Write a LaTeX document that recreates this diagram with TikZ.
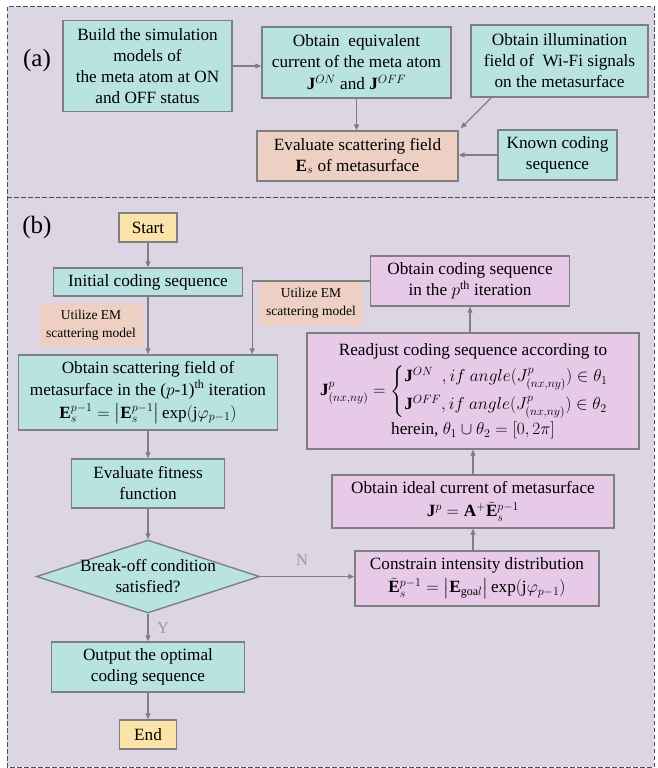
\documentclass[tikz,border=0pt]{standalone}
\usepackage{amsmath}
\usepackage{amssymb}
\usepackage{fontspec}
\setmainfont{Liberation Serif}
\usetikzlibrary{shapes.geometric,arrows.meta}
\definecolor{panelbg}{HTML}{DCD6E4}
\definecolor{tealbox}{HTML}{B8E3E1}
\definecolor{salmonbox}{HTML}{EECFC4}
\definecolor{pinkbox}{HTML}{E7CAE8}
\definecolor{yellowbox}{HTML}{FBE3AA}
\definecolor{edgegray}{HTML}{7F7F7F}
\definecolor{labgray}{HTML}{9A9A9A}
\tikzset{
  box/.style={
    draw=edgegray, line width=1.4pt, fill=#1, align=center,
    inner sep=2pt, font=\fontsize{17.2}{21}\selectfont
  },
  note/.style={
    fill=salmonbox, align=center, inner sep=1pt,
    font=\fontsize{13.5}{18}\selectfont
  },
  arr/.style={
    draw=edgegray, line width=1.1pt,
    -{Triangle[length=6pt,width=5pt]}
  },
  frame/.style={draw=black!70, line width=1pt, dash pattern=on 4.5pt off 2.5pt},
  yn/.style={text=labgray, font=\fontsize{16.5}{20}\selectfont}
}
\begin{document}
\begin{tikzpicture}[x=1pt,y=-1pt]
\useasboundingbox (0,0) rectangle (657,768);
\fill[panelbg] (7,7) rectangle (654,767);
\draw[frame] (7,7) rectangle (654,767);
\draw[frame] (7,197) -- (654,197);

\node[font=\fontsize{25}{28}\selectfont] (tagA) at (37,60) {(a)};
\node[font=\fontsize{25}{28}\selectfont] (tagB) at (37,227) {(b)};

% (a)
\node[box=tealbox, minimum width=169pt, minimum height=91pt] (build) at (147.5,66)
  {Build the simulation\\ models of\\ the meta atom at ON\\ and OFF status};
\node[box=tealbox, minimum width=189pt, minimum height=71pt] (equiv) at (356.5,62.5)
  {Obtain\ \ equivalent\\ current of the meta atom\\[1pt] $\mathbf{J}^{ON}$ and $\mathbf{J}^{OFF}$};
\node[box=tealbox, minimum width=177pt, minimum height=72pt] (illum) at (559.5,61)
  {Obtain illumination\\ field of\ \ Wi-Fi signals\\ on the metasurface};
\node[box=salmonbox, minimum width=201pt, minimum height=50pt] (evals) at (357.5,156)
  {Evaluate scattering field\\ $\mathbf{E}_s$ of metasurface};
\node[box=tealbox, minimum width=119pt, minimum height=50pt] (known) at (557.5,155)
  {Known coding\\ sequence};

\draw[arr] (build.east) -- (build.east -| equiv.west);
\draw[arr] (equiv.south) -- (equiv.south |- evals.north);
\draw[arr] ([xshift=21pt]illum.south west) -- ([xshift=2pt,yshift=2pt]evals.north east);
\draw[arr] (known.west) -- (known.west -| evals.east);

% (b)
\node[box=yellowbox, minimum width=58pt, minimum height=29pt] (start) at (148,227.5) {Start};
\node[box=tealbox, minimum width=189pt, minimum height=28pt] (init) at (148,282)
  {Initial coding sequence};
\node[box=tealbox, minimum width=259pt, minimum height=75pt] (scat) at (148,392.5)
  {Obtain scattering field of\\[1pt] metasurface in the ($p$-1)\textsuperscript{th} iteration\\[2pt]
   $\mathbf{E}_s^{p-1}=\bigl|\mathbf{E}_s^{p-1}\bigr|\exp(\mathrm{j}\varphi_{p-1})$};
\node[box=tealbox, minimum width=153pt, minimum height=49pt] (fit) at (148,483.5)
  {Evaluate fitness\\ function};
\node[draw=edgegray, line width=1.4pt, fill=tealbox, shape=diamond, inner sep=0pt,
  minimum width=223pt, minimum height=73pt,
  label={[align=center, font=\fontsize{17.2}{21}\selectfont]center:Break-off condition\\ satisfied?}]
  (brk) at (148,576.5) {};
\node[box=tealbox, minimum width=193pt, minimum height=50pt] (outp) at (148,667)
  {Output the optimal\\ coding sequence};
\node[box=yellowbox, minimum width=57pt, minimum height=29pt] (stop) at (148,734.5) {End};

\node[box=pinkbox, minimum width=199pt, minimum height=50pt] (pth) at (470,281)
  {Obtain coding sequence\\ in the $p^{\mathrm{th}}$ iteration};
\node[box=pinkbox, minimum width=332pt, minimum height=116pt] (readj) at (473,391)
  {Readjust coding sequence according to\\[4pt]
   $\mathbf{J}^p_{(nx,ny)}=\begin{cases}\mathbf{J}^{ON}\ \ ,if\ angle(J^p_{(nx,ny)})\in\theta_1\\[3pt]
   \mathbf{J}^{OFF},if\ angle(J^p_{(nx,ny)})\in\theta_2\end{cases}$\\[2pt]
   herein, $\theta_1\cup\theta_2=[0,2\pi]$};
\node[box=pinkbox, minimum width=282pt, minimum height=53pt] (ideal) at (473,501.5)
  {Obtain ideal current of metasurface\\[2pt] $\mathbf{J}^p=\mathbf{A}^{+}\tilde{\mathbf{E}}_s^{p-1}$};
\node[box=pinkbox, minimum width=244pt, minimum height=55pt] (cons) at (477,578.5)
  {Constrain intensity distribution\\[2pt]
   $\tilde{\mathbf{E}}_s^{p-1}=\bigl|\mathbf{E}_{\mathrm{goa}l}\bigr|\exp(\mathrm{j}\varphi_{p-1})$};

\node[note, minimum width=104pt, minimum height=44pt] (em1) at (91,325) {Utilize EM\\ scattering model};
\node[note, minimum width=104pt, minimum height=44pt] (em2) at (311,303.5) {Utilize EM\\ scattering model};
\node[yn] (nlab) at (302,560) {N};
\node[yn] (ylab) at (163,628) {Y};

\draw[arr] (start) -- (init);
\draw[arr] (init) -- (scat);
\draw[arr] (scat) -- (fit);
\draw[arr] (fit) -- (brk);
\draw[arr] (brk) -- (outp);
\draw[arr] (outp) -- (stop);
\draw[arr] (brk.east) -- (brk.east -| cons.west);
\draw[arr] (cons.north -| ideal.south) -- (ideal.south);
\draw[arr] (ideal.north) -- (readj.south);
\draw[arr] (readj.north -| pth.south) -- (pth.south);
\draw[arr] (pth.west) -| ([xshift=-26pt]scat.north east);
\end{tikzpicture}
\end{document}
